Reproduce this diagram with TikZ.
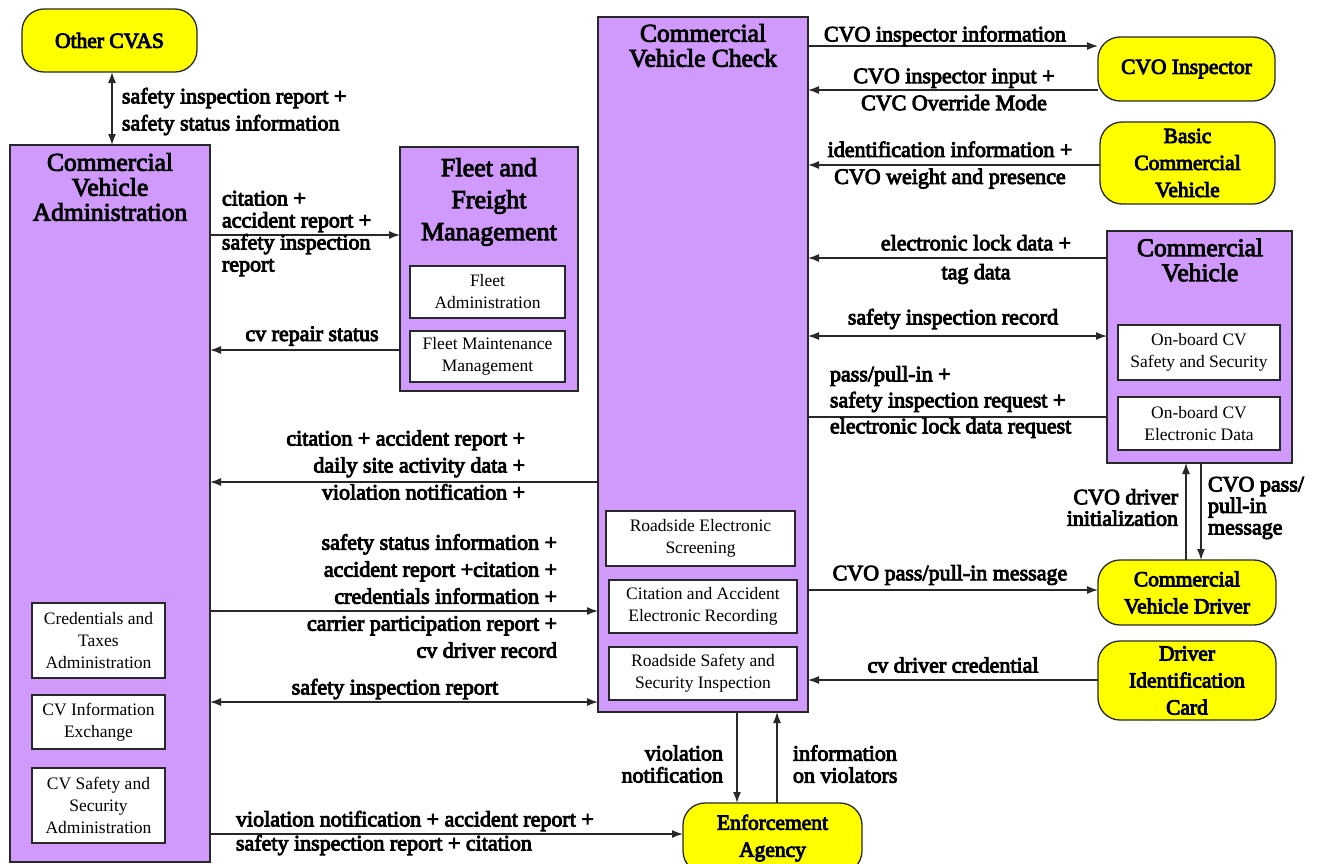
\documentclass[tikz,border=0pt]{standalone}
\usepackage{fontspec}
\setmainfont{Liberation Serif}
\newcommand\strokeon{\special{pdf:literal direct 2 Tr 0.9 w}}
\newcommand\strokeoff{\special{pdf:literal direct 0 Tr}}
\usetikzlibrary{arrows.meta}
\definecolor{cvpurple}{RGB}{208,153,252}
\definecolor{cvyellow}{RGB}{255,255,0}
\definecolor{cvline}{RGB}{40,40,40}
\tikzset{
  every node/.style={inner sep=0pt, outer sep=0pt},
  term/.style={draw=cvline, line width=1.3pt, fill=cvyellow, rounded corners=22pt, align=center, font=\fontsize{21.5}{27}\selectfont\strokeon},
  pbox/.style={draw=cvline, line width=1.3pt, fill=cvpurple},
  sbox/.style={draw=cvline, line width=1.2pt, fill=white, align=center, font=\fontsize{17.5}{22}\selectfont\strokeoff},
  ttl/.style={align=center, font=\fontsize{25.5}{25}\selectfont\strokeon},
  lab/.style={font=\fontsize{22}{27}\selectfont\strokeon},
  conn/.style={draw=cvline, line width=1.3pt},
  tip/.style={-{Latex[length=11pt,width=8pt]}},
  dtip/.style={{Latex[length=11pt,width=8pt]}-{Latex[length=11pt,width=8pt]}},
}
\begin{document}
\begin{tikzpicture}[x=1pt,y=-1pt]
\useasboundingbox (0,0) rectangle (1323,863);
% terminators
\node[term, minimum width=175pt, minimum height=63pt] (cvas) at (109.5,40.5) {Other CVAS};
\node[term, minimum width=177pt, minimum height=64pt] (insp) at (1186.5,69) {CVO Inspector};
\node[term, minimum width=175pt, minimum height=82pt] (bcv) at (1187.5,163) {Basic\\Commercial\\Vehicle};
\node[term, minimum width=178pt, minimum height=65pt] (drv) at (1187,592.5) {Commercial\\Vehicle Driver};
\node[term, minimum width=178pt, minimum height=79pt] (card) at (1187,680.5) {Driver\\Identification\\Card};
\node[term, minimum width=179pt, minimum height=70pt] (enf) at (772.5,838) {Enforcement\\Agency};
% purple boxes
\node[pbox, minimum width=200pt, minimum height=717pt] (cva) at (110,503.5) {};
\node[ttl] (cvat) at (110,187) {Commercial\\Vehicle\\Administration};
\node[pbox, minimum width=178pt, minimum height=244pt] (fleet) at (489,269) {};
\node[ttl, font=\fontsize{26}{32}\selectfont\strokeon] (fleett) at (489,202) {Fleet and\\Freight\\Management};
\node[pbox, minimum width=210pt, minimum height=695pt] (cvc) at (703,364.5) {};
\node[ttl] (cvct) at (703,45.5) {Commercial\\Vehicle Check};
\node[pbox, minimum width=185pt, minimum height=232pt] (cv) at (1199.5,347) {};
\node[ttl] (cvt) at (1200,260) {Commercial\\Vehicle};
% sub boxes
\node[sbox, minimum width=133pt, minimum height=75pt] (ct) at (98.5,640.5) {Credentials and\\Taxes\\Administration};
\node[sbox, minimum width=133pt, minimum height=54pt] (cie) at (98.5,722) {CV Information\\Exchange};
\node[sbox, minimum width=133pt, minimum height=75pt] (css) at (98.5,805.5) {CV Safety and\\Security\\Administration};
\node[sbox, minimum width=155pt, minimum height=52pt] (fa) at (487.5,292) {Fleet\\Administration};
\node[sbox, minimum width=155pt, minimum height=51pt] (fmm) at (487.5,356.5) {Fleet Maintenance\\Management};
\node[sbox, minimum width=189pt, minimum height=55pt] (res) at (700.5,538.5) {Roadside Electronic\\Screening};
\node[sbox, minimum width=188pt, minimum height=53pt] (caer) at (703,606.5) {Citation and Accident\\Electronic Recording};
\node[sbox, minimum width=188pt, minimum height=53pt] (rssi) at (703,673.5) {Roadside Safety and\\Security Inspection};
\node[sbox, minimum width=162pt, minimum height=55pt] (obss) at (1199,352.5) {On-board CV\\Safety and Security};
\node[sbox, minimum width=162pt, minimum height=53pt] (obed) at (1199,423.5) {On-board CV\\Electronic Data};
% connectors
\draw[conn, dtip] (cvas.south -| 112,0) -- (cva.north -| 112,0);
\draw[conn, tip] (cva.east |- 0,235) -- (fleet.west |- 0,235);
\draw[conn, tip] (fleet.west |- 0,350) -- (cva.east |- 0,350);
\draw[conn, tip] (cvc.west |- 0,482) -- (cva.east |- 0,482);
\draw[conn, tip] (cva.east |- 0,611) -- (cvc.west |- 0,611);
\draw[conn, dtip] (cva.east |- 0,702) -- (cvc.west |- 0,702);
\draw[conn, tip] (cva.east |- 0,834) -- (enf.west |- 0,834);
\draw[conn, tip] (cvc.south -| 737,0) -- (enf.north -| 737,0);
\draw[conn, tip] (enf.north -| 777,0) -- (cvc.south -| 777,0);
\draw[conn, tip] (cvc.east |- 0,46) -- (insp.west |- 0,46);
\draw[conn, tip] (insp.west |- 0,90) -- (cvc.east |- 0,90);
\draw[conn, tip] (bcv.west |- 0,165) -- (cvc.east |- 0,165);
\draw[conn, tip] (cv.west |- 0,258) -- (cvc.east |- 0,258);
\draw[conn, dtip] (cvc.east |- 0,336) -- (cv.west |- 0,336);
\draw[conn] (cvc.east |- 0,417) -- (cv.west |- 0,417);
\draw[conn, tip] (cvc.east |- 0,590) -- (drv.west |- 0,590);
\draw[conn, tip] (drv.north -| 1186,0) -- (cv.south -| 1186,0);
\draw[conn, tip] (cv.south -| 1201,0) -- (drv.north -| 1201,0);
\draw[conn, tip] (card.west |- 0,680) -- (cvc.east |- 0,680);
% labels
\node[lab, anchor=west, align=left] (l1) at (122,111.5) {safety inspection report +\\safety status information};
\node[lab, anchor=west, align=left, font=\fontsize{22}{22}\selectfont\strokeon] (l2) at (222,233.5) {citation +\\accident report +\\safety inspection\\report};
\node[lab] (l3) at (312,336) {cv repair status};
\node[lab, anchor=east, align=right] (l4) at (525,465) {citation + accident report +\\daily site activity data +\\violation notification +};
\node[lab, anchor=east, align=right] (l5) at (557,596) {safety status information +\\accident report +citation +\\credentials information +\\carrier participation report +\\cv driver record};
\node[lab] (l6) at (395,689) {safety inspection report};
\node[lab, anchor=west, align=left, font=\fontsize{22}{24}\selectfont\strokeon] (l7) at (236,833) {violation notification + accident report +\\safety inspection report + citation};
\node[lab, anchor=east, align=right, font=\fontsize{22}{22}\selectfont\strokeon] (l8) at (723,764) {violation\\notification};
\node[lab, anchor=west, align=left, font=\fontsize{22}{22}\selectfont\strokeon] (l9) at (793,764) {information\\on violators};
\node[lab] (l10) at (945,36) {CVO inspector information};
\node[lab, align=center] (l11) at (954,89.5) {CVO inspector input +\\CVC Override Mode};
\node[lab, align=center] (l12) at (950,165) {identification information +\\CVO weight and presence};
\node[lab, align=center, font=\fontsize{22}{29}\selectfont\strokeon] (l13) at (976,259.5) {electronic lock data +\\tag data};
\node[lab] (l14) at (953,319) {safety inspection record};
\node[lab, anchor=west, align=left, font=\fontsize{22}{26}\selectfont\strokeon] (l15) at (830,402) {pass/pull-in +\\safety inspection request +\\electronic lock data request};
\node[lab] (l16) at (950,575) {CVO pass/pull-in message};
\node[lab, anchor=east, align=right, font=\fontsize{22}{21.5}\selectfont\strokeon] (l17) at (1178,507.5) {CVO driver\\initialization};
\node[lab, anchor=west, align=left, font=\fontsize{22}{21.5}\selectfont\strokeon] (l18) at (1208,508) {CVO pass/\\pull-in\\message};
\node[lab] (l19) at (953,665) {cv driver credential};
\end{tikzpicture}
\end{document}
